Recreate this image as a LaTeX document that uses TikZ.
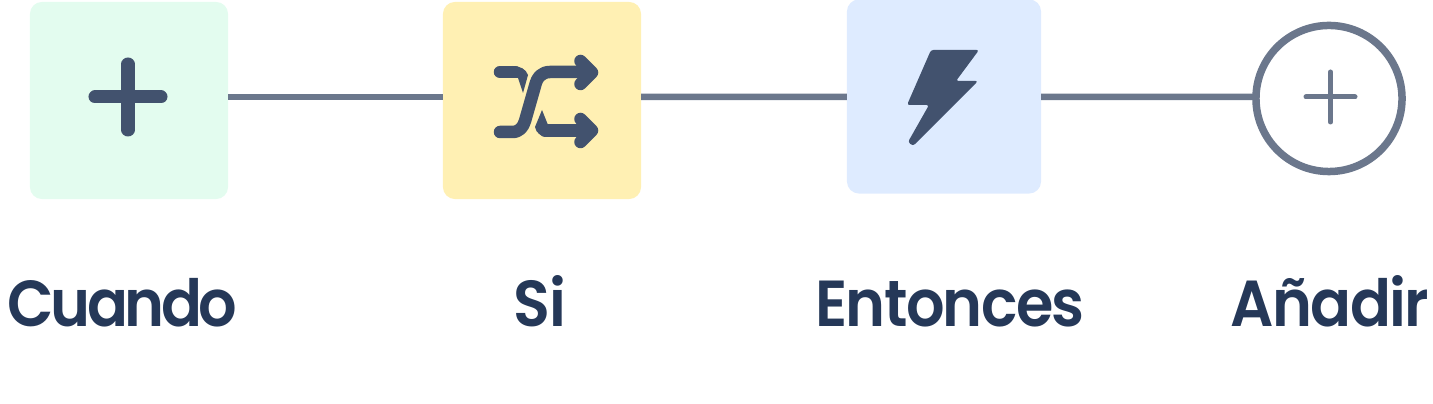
\documentclass[tikz,border=0pt]{standalone}
\usepackage{fontspec}
\setmainfont{Poppins SemiBold}[FakeStretch=0.93,LetterSpace=-2.5]
\usepackage{xcolor}
\usetikzlibrary{positioning}
\definecolor{C_LINE}{HTML}{6B778C}
\definecolor{C_ICON}{HTML}{42526E}
\definecolor{C_TEXT}{HTML}{253858}
\definecolor{C_WHEN}{HTML}{E3FCEF}
\definecolor{C_IF}  {HTML}{FFF0B3}
\definecolor{C_THEN}{HTML}{DEEBFF}
\tikzset{
  %% -- rule step box --
  flow/box/.style={
    rounded corners=0.12cm, inner sep=0pt, outer sep=0pt,
    minimum width=1.98cm, minimum height=1.97cm
  },
  %% -- round "add" step --
  flow/add/.style={
    circle, draw=C_LINE, line width=0.075cm, fill=white,
    inner sep=0pt, outer sep=0pt, minimum size=1.46cm
  },
  %% -- step caption --
  flow/lbl/.style={
    font=\fontsize{18.5pt}{18.5pt}\selectfont, color=C_TEXT,
    anchor=base, inner sep=0pt
  },
  %% -- link between steps --
  flow/link/.style={draw=C_LINE, line width=0.065cm},
  %% -- stroked icon parts --
  flow/stroke/.style={draw=C_ICON, line width=0.125cm, line cap=round, line join=round},
}

\begin{document}
\begin{tikzpicture}[x=0.01cm, y=-0.01cm]
\useasboundingbox (0,0) rectangle (1433,404);

%% Step boxes
\node[flow/box, fill=C_WHEN] (when) at (129,100.5) {};
\node[flow/box, fill=C_IF]   (if)   at (542,100.5) {};
\node[flow/box, fill=C_THEN, minimum width=1.94cm, minimum height=1.94cm]
  (then) at (944,96.5) {};
\node[flow/add] (add) at (1329,98.5) {};

%% Links
\draw[flow/link] ([yshift=0.035cm]when.east) -- ([yshift=0.035cm]if.west);
\draw[flow/link] ([yshift=0.035cm]if.east) -- ([yshift=-0.005cm]then.west);
\draw[flow/link] ([yshift=-0.005cm]then.east) -- ([yshift=0.015cm]add.west);

%% Plus icon
\draw[flow/stroke, line width=0.13cm] (95,97) -- (161,97) (128,64) -- (128,130);

%% Shuffle icon
\draw[flow/stroke] (500,132) -- (512,132)
  .. controls (520,132) and (523,127) .. (525,121) -- (535,86)
  .. controls (537,77) and (542,72) .. (550,72) -- (590,72);
\draw[flow/stroke] (580.5,61) -- (592,72.5) -- (580.5,84);
\draw[flow/stroke] (545,130.5) -- (590,130.5);
\draw[flow/stroke] (580.5,119) -- (592,130.5) -- (580.5,142);
\draw[flow/stroke] (500,72) -- (515,72);
\fill[C_ICON] (512,66) .. controls (520,66) and (526,69) .. (528,75)
  -- (523,93) -- (518,78) -- (512,78) -- cycle;
\fill[C_ICON] (542,110) -- (548,125) -- (552,125) -- (552,136.5) -- (547,136.5)
  .. controls (541,136.5) and (536,133) .. (535,127) -- cycle;

%% Bolt icon
\fill[C_ICON, rounded corners=0.025cm] (931,50) -- (979,50) -- (956,81) -- (978,81)
  -- (913,146) -- (908,142) -- (929,105) -- (907,105) -- cycle;

%% Add icon
\draw[draw=C_LINE, line width=0.05cm, line cap=round]
  (1306,97) -- (1355,97) (1330.5,72) -- (1330.5,122);

%% Captions
\node[flow/lbl] (whenlbl) at (122.5,327) {\addfontfeature{LetterSpace=-5.5}Cuando};
\node[flow/lbl] (iflbl)   at (540,327) {Si};
\node[flow/lbl] (thenlbl) at (950,327) {Entonces};
\node[flow/lbl] (addlbl)  at (1330,327) {Añadir};

\end{tikzpicture}
\end{document}
